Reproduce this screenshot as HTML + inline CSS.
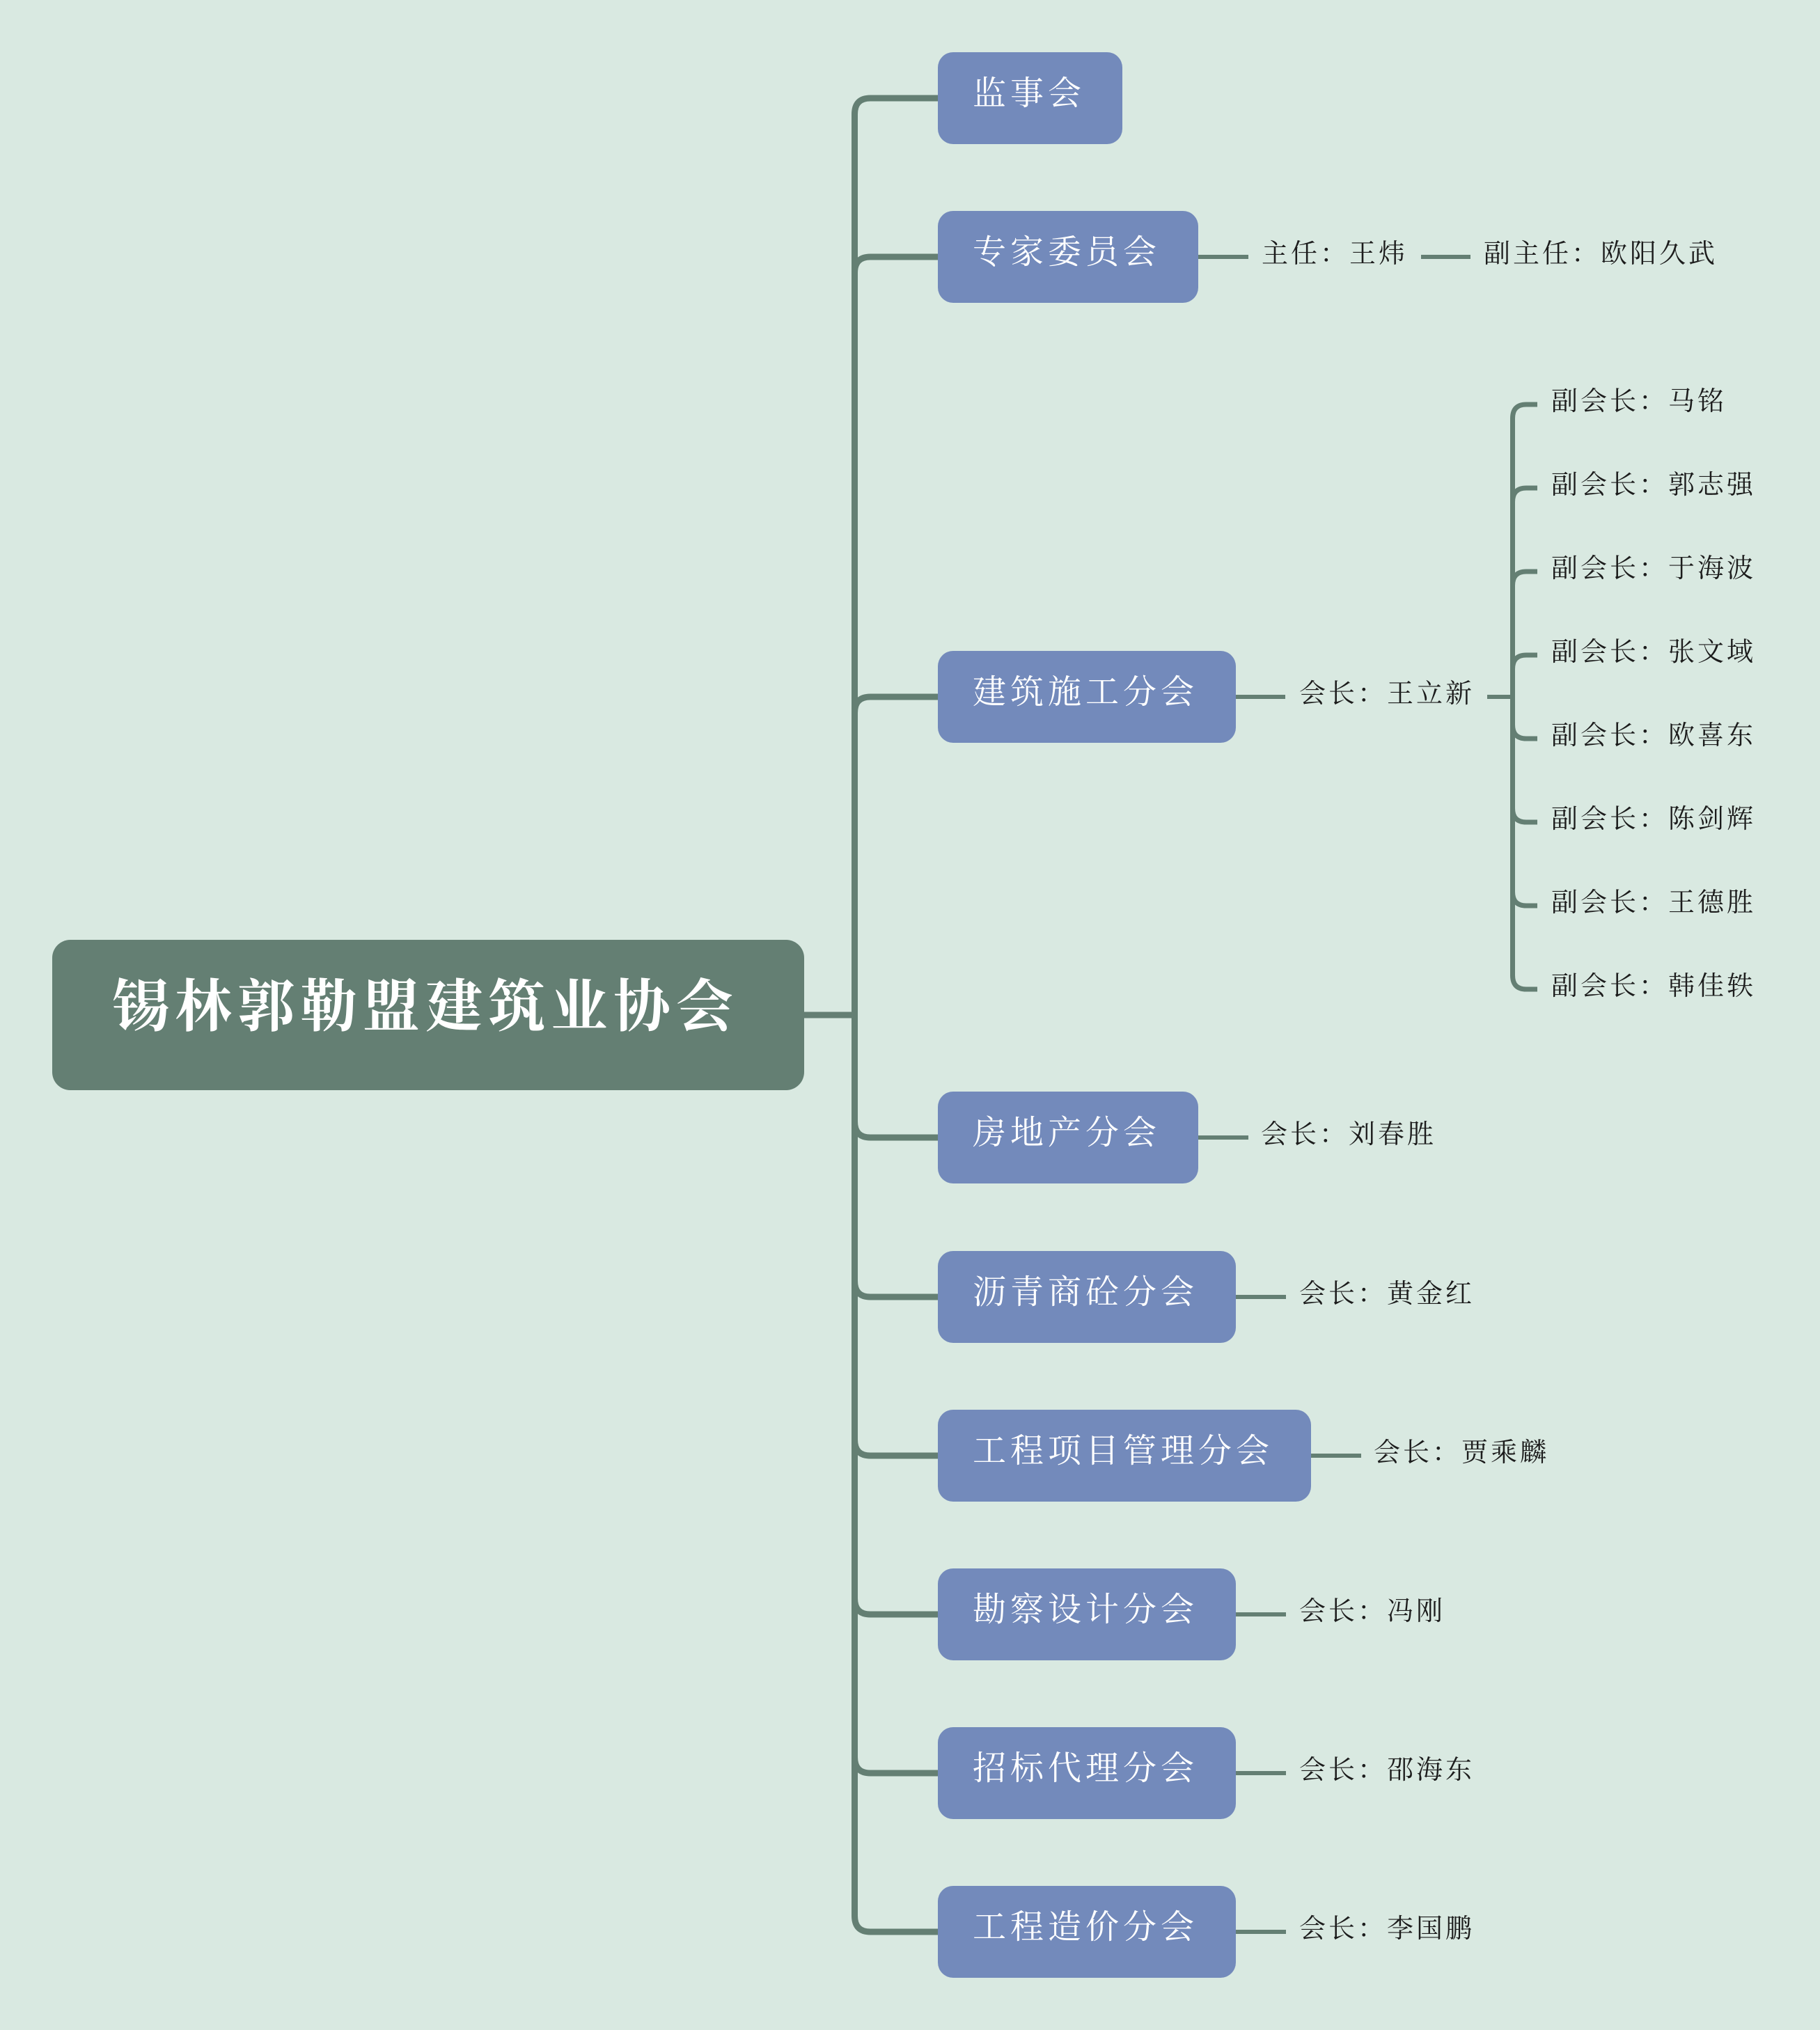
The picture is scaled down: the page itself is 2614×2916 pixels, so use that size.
<!DOCTYPE html>
<html>
<head>
<meta charset="utf-8">
<style>
  html, body { margin:0; padding:0; }
  body { width:2614px; height:2916px; background:#d9e9e1; position:relative; overflow:hidden;
         font-family:"Liberation Serif","Noto Serif CJK SC","Noto Sans CJK SC",serif; }
  svg { position:absolute; left:0; top:0; }
  .root { position:absolute; left:75px; top:1350px; width:1080px; height:216px; background:#647f73; border-radius:26px; }
  .rootText { position:absolute; left:161px; top:1397px; height:100px; line-height:100px; font-size:82px; letter-spacing:8px;
              color:#fff; font-weight:700; white-space:nowrap; }
  .box { position:absolute; left:1347px; height:132px; background:#738abb; border-radius:22px; }
  .bt { position:absolute; left:1397px; height:70px; line-height:70px; font-size:48px; letter-spacing:6px; color:#fff; white-space:nowrap; }
  .t { position:absolute; height:50px; line-height:50px; font-size:38px; letter-spacing:4px; color:#1c1c1c; white-space:nowrap; }
</style>
</head>
<body>
<svg width="2614" height="2916" viewBox="0 0 2614 2916">
  <g fill="none" stroke="#647f73" stroke-linecap="butt">
    <path d="M1155,1458 H1228" stroke-width="9"/>
    <path d="M1227.5,163 V2753" stroke-width="9"/>
    <path d="M1347,141 H1250 Q1227.5,141 1227.5,164" stroke-width="9"/>
    <path d="M1347,369 H1250 Q1227.5,369 1227.5,392" stroke-width="9"/>
    <path d="M1347,1001 H1250 Q1227.5,1001 1227.5,1024" stroke-width="9"/>
    <path d="M1227.5,1611 Q1227.5,1634 1250,1634 H1347" stroke-width="9"/>
    <path d="M1227.5,1840 Q1227.5,1863 1250,1863 H1347" stroke-width="9"/>
    <path d="M1227.5,2068 Q1227.5,2091 1250,2091 H1347" stroke-width="9"/>
    <path d="M1227.5,2296 Q1227.5,2319 1250,2319 H1347" stroke-width="9"/>
    <path d="M1227.5,2524 Q1227.5,2547 1250,2547 H1347" stroke-width="9"/>
    <path d="M1227.5,2752 Q1227.5,2775 1250,2775 H1347" stroke-width="9"/>

    <path d="M1721,369 H1793" stroke-width="6"/>
    <path d="M2041,369 H2112" stroke-width="6"/>
    <path d="M1775,1001 H1846" stroke-width="6"/>
    <path d="M2136,1001 H2173" stroke-width="6"/>
    <path d="M1721,1634 H1793" stroke-width="6"/>
    <path d="M1775,1863 H1847" stroke-width="6"/>
    <path d="M1883,2091 H1955" stroke-width="6"/>
    <path d="M1775,2319 H1847" stroke-width="6"/>
    <path d="M1775,2547 H1847" stroke-width="6"/>
    <path d="M1775,2775 H1847" stroke-width="6"/>

    <path d="M2172.5,600 V1402" stroke-width="7"/>
    <path d="M2208,581 H2192 Q2172.5,581 2172.5,601" stroke-width="7"/>
    <path d="M2208,701 H2192 Q2172.5,701 2172.5,721" stroke-width="7"/>
    <path d="M2208,821 H2192 Q2172.5,821 2172.5,841" stroke-width="7"/>
    <path d="M2208,941 H2192 Q2172.5,941 2172.5,961" stroke-width="7"/>
    <path d="M2172.5,1041 Q2172.5,1061 2192,1061 H2208" stroke-width="7"/>
    <path d="M2172.5,1161 Q2172.5,1181 2192,1181 H2208" stroke-width="7"/>
    <path d="M2172.5,1281 Q2172.5,1301 2192,1301 H2208" stroke-width="7"/>
    <path d="M2172.5,1401 Q2172.5,1421 2192,1421 H2208" stroke-width="7"/>
  </g>
</svg>

<div class="root"></div>
<div class="rootText">锡林郭勒盟建筑业协会</div>

<div class="box" style="top:75px;width:265px;"></div>
<div class="bt" style="top:100px;">监事会</div>

<div class="box" style="top:303px;width:374px;"></div>
<div class="bt" style="top:328px;">专家委员会</div>

<div class="box" style="top:935px;width:428px;"></div>
<div class="bt" style="top:960px;">建筑施工分会</div>

<div class="box" style="top:1568px;width:374px;"></div>
<div class="bt" style="top:1593px;">房地产分会</div>

<div class="box" style="top:1797px;width:428px;"></div>
<div class="bt" style="top:1822px;">沥青商砼分会</div>

<div class="box" style="top:2025px;width:536px;"></div>
<div class="bt" style="top:2050px;">工程项目管理分会</div>

<div class="box" style="top:2253px;width:428px;"></div>
<div class="bt" style="top:2278px;">勘察设计分会</div>

<div class="box" style="top:2481px;width:428px;"></div>
<div class="bt" style="top:2506px;">招标代理分会</div>

<div class="box" style="top:2709px;width:428px;"></div>
<div class="bt" style="top:2734px;">工程造价分会</div>

<div class="t" style="left:1812px;top:340px;">主任：王炜</div>
<div class="t" style="left:2131px;top:340px;">副主任：欧阳久武</div>

<div class="t" style="left:1866px;top:972px;">会长：王立新</div>

<div class="t" style="left:2228px;top:552px;">副会长：马铭</div>
<div class="t" style="left:2228px;top:672px;">副会长：郭志强</div>
<div class="t" style="left:2228px;top:792px;">副会长：于海波</div>
<div class="t" style="left:2228px;top:912px;">副会长：张文域</div>
<div class="t" style="left:2228px;top:1032px;">副会长：欧喜东</div>
<div class="t" style="left:2228px;top:1152px;">副会长：陈剑辉</div>
<div class="t" style="left:2228px;top:1272px;">副会长：王德胜</div>
<div class="t" style="left:2228px;top:1392px;">副会长：韩佳轶</div>

<div class="t" style="left:1811px;top:1605px;">会长：刘春胜</div>
<div class="t" style="left:1866px;top:1834px;">会长：黄金红</div>
<div class="t" style="left:1973px;top:2062px;">会长：贾乘麟</div>
<div class="t" style="left:1866px;top:2290px;">会长：冯刚</div>
<div class="t" style="left:1866px;top:2518px;">会长：邵海东</div>
<div class="t" style="left:1866px;top:2746px;">会长：李国鹏</div>
</body>
</html>
